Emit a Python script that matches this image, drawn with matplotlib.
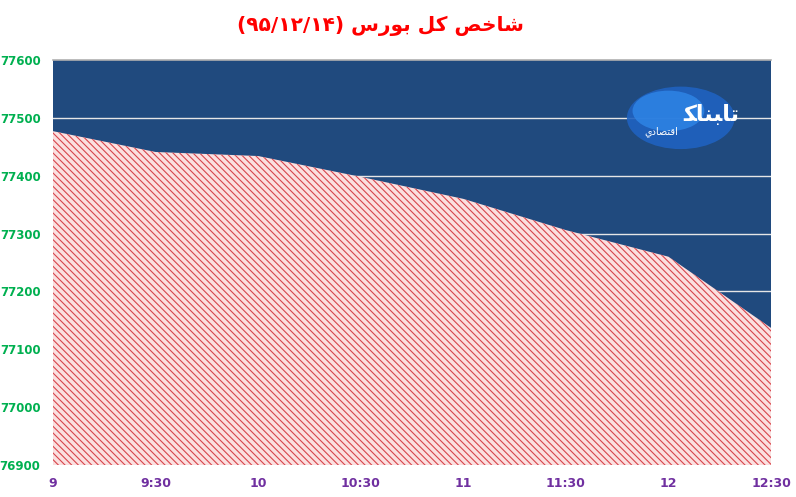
import numpy as np
import matplotlib.pyplot as plt
from matplotlib.patches import Ellipse

# values (index of Tehran stock exchange, 95/12/14)
times = ["9", "9:30", "10", "10:30", "11", "11:30", "12", "12:30"]
index_vals = [77477, 77441, 77434, 77398, 77360, 77306, 77260, 77137]
y_ticks = [76900, 77000, 77100, 77200, 77300, 77400, 77500, 77600]

# title pre-shaped (presentation forms, visual order) since matplotlib has no bidi
title = ("(\u06f9\u06f5/\u06f1\u06f2/\u06f1\u06f4) "
         "\ufeb1\ufead\ufeee\ufe91 "
         "\ufede\ufb90 "
         "\ufeba\ufea7\ufe8e\ufeb7")

plt.rcParams["hatch.linewidth"] = 0.8
plt.rcParams["hatch.color"] = "#d8454c"

fig = plt.figure(figsize=(7.96, 4.97), dpi=100)
ax = fig.add_axes([0.0666, 0.0644, 0.902, 0.8149])
ax.set_facecolor("#204a7e")

x = np.arange(len(times))
ax.fill_between(x, y_ticks[0], index_vals, facecolor="#fbe0e0",
                edgecolor="#d8454c", hatch="\\" * 5, linewidth=0, zorder=3)

for v in y_ticks[1:-1]:
    ax.axhline(v, color="#e6e6e6", lw=1.0, zorder=2)

# logo placeholder (blue glow with white text)
ax.add_patch(Ellipse((6.12, 77500), 1.05, 108, facecolor="#1f62c0", edgecolor="none",
                     alpha=0.9, zorder=2))
ax.add_patch(Ellipse((6.0, 77512), 0.7, 70, facecolor="#2f86e8", edgecolor="none",
                     alpha=0.8, zorder=2))
ax.text(6.42, 77505, "\ufedc\ufe8e\ufee8\ufe92\ufe8e\ufe97", color="white", fontsize=16,
        fontweight="bold", ha="center", va="center", family=["DejaVu Sans"], zorder=4)
ax.text(5.93, 77476, "\ufef1\ufea9\ufe8e\ufebc\ufe98\ufed7\ufe8d", color="white", fontsize=7,
        ha="center", va="center", family=["DejaVu Sans"], zorder=4)

ax.set_xlim(0, len(times) - 1)
ax.set_ylim(y_ticks[0], y_ticks[-1])
ax.set_xticks(x)
ax.set_xticklabels(times)
ax.set_yticks(y_ticks)
ax.tick_params(length=0)
ax.tick_params(axis="x", pad=9, labelcolor="#7030a0", labelsize=9)
ax.tick_params(axis="y", pad=9, labelcolor="#00b050", labelsize=8.5)
for lab in ax.get_xticklabels() + ax.get_yticklabels():
    lab.set_fontweight("bold")

for s in ["left", "right", "bottom"]:
    ax.spines[s].set_visible(False)
ax.spines["top"].set_color("#b0b0b0")
ax.spines["top"].set_linewidth(1.2)

fig.text(0.478, 0.948, title, color="red", fontsize=14.5, fontweight="bold",
         ha="center", va="center", family=["DejaVu Sans"])

fig.savefig("out.png", dpi=100)
